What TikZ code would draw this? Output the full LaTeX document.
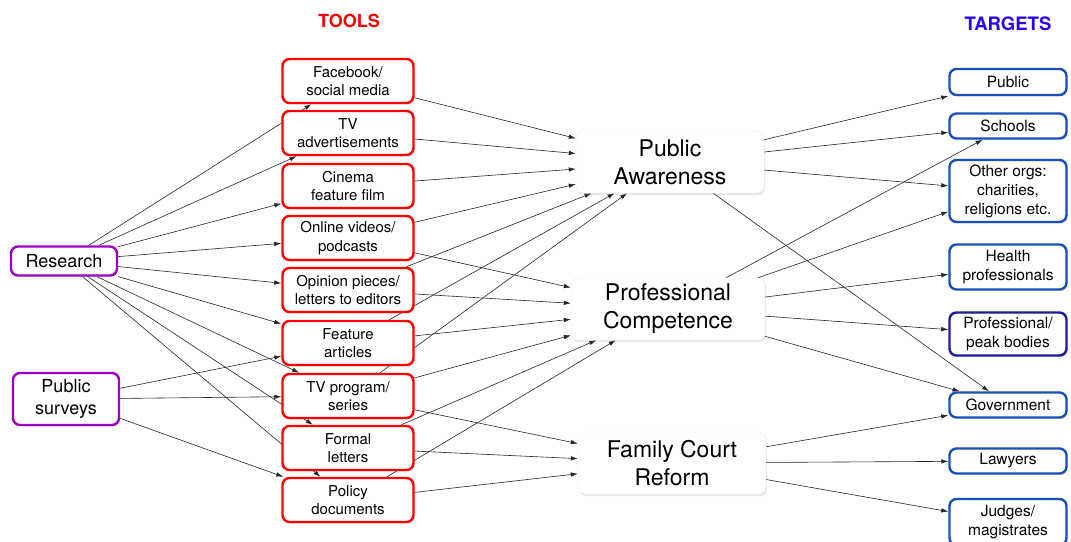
\documentclass[tikz,border=0pt]{standalone}
\usepackage{fontspec}
\setmainfont{TeX Gyre Heros}
\usepackage{xcolor}
\usepackage{tikz}
\usetikzlibrary{arrows.meta,shadows,backgrounds}

\definecolor{srcpurple}{HTML}{9B00C4}
\definecolor{tgtblue}{HTML}{1A50B8}
\definecolor{peaknavy}{HTML}{1C1C9C}
\definecolor{headblue}{HTML}{2A00FF}

\begin{document}
\begin{tikzpicture}[x=1pt, y=-1pt,
    box/.style={draw, line width=2.4pt, rounded corners=7pt, fill=white, align=center,
        inner sep=0pt, drop shadow={shadow xshift=1pt, shadow yshift=-1.5pt, opacity=0.2}},
    src/.style={box, draw=srcpurple, minimum width=106pt, font=\fontsize{18}{22}\selectfont},
    tool/.style={box, draw=red, minimum width=131pt, minimum height=44pt, font=\fontsize{15}{18.3}\selectfont},
    goal/.style={draw=black!8, rounded corners=7pt, fill=white, align=center, inner sep=0pt,
        minimum width=188pt, minimum height=62pt, font=\fontsize{23}{28}\selectfont,
        drop shadow={shadow xshift=1pt, shadow yshift=-2pt, opacity=0.18}},
    tgt/.style={box, draw=tgtblue, minimum width=117pt, font=\fontsize{15.5}{19}\selectfont},
    arr/.style={-{Latex[length=7pt,width=4.5pt]}, line width=0.6pt, black!85}]
    \useasboundingbox (0,0) rectangle (1071,541);

    \node[font=\bfseries\fontsize{18}{20}\selectfont, text=red] (toolhead) at (349,21) {TOOLS};
    \node[font=\bfseries\fontsize{18.5}{20}\selectfont, text=headblue] (tgthead) at (1008,24) {TARGETS};

    % sources
    \node[src, minimum height=29pt] (res) at (64,261) {Research};
    \node[src, minimum height=52pt] (surv) at (66,399) {Public\\surveys};

    % tools
    \node[tool] (fb)      at (348,81)  {Facebook/\\social media};
    \node[tool] (tvad)    at (348,133) {TV\\advertisements};
    \node[tool] (cine)    at (348,186) {Cinema\\feature film};
    \node[tool] (vid)     at (348,238) {Online videos/\\podcasts};
    \node[tool] (opin)    at (348,290) {Opinion pieces/\\letters to editors};
    \node[tool] (feat)    at (348,343) {Feature\\articles};
    \node[tool] (tvprog)  at (348,396) {TV program/\\series};
    \node[tool] (letters) at (348,448) {Formal\\letters};
    \node[tool] (policy)  at (348,500) {Policy\\documents};

    % outcomes
    \node[goal] (aware)  at (670,162) {Public\\Awareness};
    \node[goal, minimum width=194pt] (compet) at (668,309) {Professional\\Competence};
    \node[goal] (court)  at (672,463) {Family Court\\Reform};

    % targets
    \node[tgt, minimum height=26pt] (public)  at (1008,82)  {Public};
    \node[tgt, minimum height=25pt] (schools) at (1008,126) {Schools};
    \node[tgt, minimum height=62pt] (orgs)    at (1008,191) {Other orgs:\\charities,\\religions etc.};
    \node[tgt, minimum height=45pt] (health)  at (1008,267) {Health\\professionals};
    \node[tgt, draw=peaknavy, minimum height=43pt] (peak) at (1008,334) {Professional/\\peak bodies};
    \node[tgt, minimum height=25pt] (govt)    at (1008,405) {Government};
    \node[tgt, minimum height=25pt] (lawyers) at (1008,461) {Lawyers};
    \node[tgt, minimum height=46pt] (judges)  at (1008,522) {Judges/\\magistrates};

    \begin{pgfonlayer}{background}
        \foreach \t in {fb,tvad,cine,vid,opin,feat,tvprog,letters,policy}
            \draw[arr] (res) -- (\t);
        \foreach \t in {feat,tvprog,policy}
            \draw[arr] (surv) -- (\t);
        \foreach \t in {fb,tvad,cine,vid,opin,feat,tvprog}
            \draw[arr] (\t) -- (aware);
        \foreach \t in {vid,opin,feat,tvprog,letters,policy}
            \draw[arr] (\t) -- (compet);
        \foreach \t in {tvprog,letters,policy}
            \draw[arr] (\t) -- (court);
        \foreach \t in {public,schools,orgs,govt}
            \draw[arr] (aware) -- (\t);
        \foreach \t in {schools,orgs,health,peak,govt}
            \draw[arr] (compet) -- (\t);
        \foreach \t in {govt,lawyers,judges}
            \draw[arr] (court) -- (\t);
    \end{pgfonlayer}
\end{tikzpicture}
\end{document}
